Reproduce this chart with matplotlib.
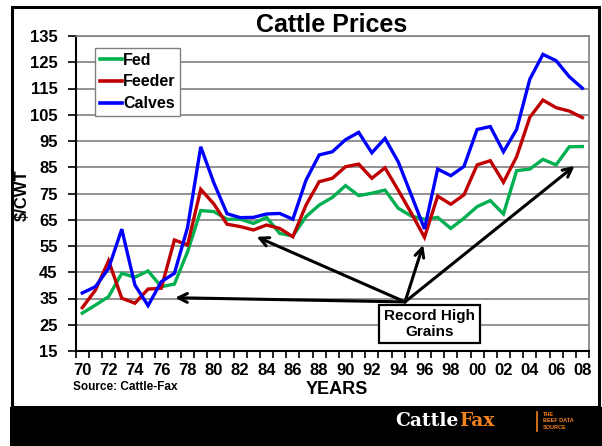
import numpy as np
import matplotlib
matplotlib.use("Agg")
import matplotlib.pyplot as plt
from matplotlib.patches import Rectangle
from matplotlib.lines import Line2D

plt.rcParams['font.family'] = ['Liberation Sans', 'DejaVu Sans']

years = ['70', '71', '72', '73', '74', '75', '76', '77', '78', '79',
         '80', '81', '82', '83', '84', '85', '86', '87', '88', '89',
         '90', '91', '92', '93', '94', '95', '96', '97', '98', '99',
         '00', '01', '02', '03', '04', '05', '06', '07', '08']

fed = [29.4, 32.5, 35.7, 44.6, 43.1, 45.5, 39.5, 40.5, 52.8, 68.5,
       68.1, 65.2, 65.2, 63.6, 65.9, 59.8, 58.8, 66.2, 70.6, 73.5,
       78.0, 74.2, 75.1, 76.3, 69.4, 66.4, 65.2, 65.9, 61.7, 65.6,
       70.0, 72.3, 67.2, 83.7, 84.3, 88.0, 85.9, 92.8, 92.9]

feeder = [31.5, 38.2, 49.4, 35.1, 33.2, 38.6, 38.9, 57.3, 55.4, 76.6,
          71.0, 63.3, 62.4, 61.1, 63.0, 61.7, 58.5, 70.6, 79.5, 80.8,
          85.2, 86.2, 80.8, 84.8, 76.3, 67.5, 58.3, 74.0, 70.9, 74.5,
          85.9, 87.5, 79.3, 89.0, 104.0, 110.6, 107.7, 106.4, 103.9]

calves = [37.1, 39.5, 46.5, 61.4, 40.1, 32.3, 41.4, 44.6, 62.1, 92.8,
          79.0, 67.3, 65.8, 65.9, 67.2, 67.4, 65.2, 80.1, 89.7, 90.9,
          95.5, 98.3, 90.5, 96.0, 87.1, 74.4, 61.5, 84.3, 81.8, 85.3,
          99.4, 100.5, 90.9, 99.4, 118.5, 128.0, 125.6, 119.5, 115.1]

series_names = ['Fed', 'Feeder', 'Calves']
series_colors = ['#00B050', '#C00000', '#0000FF']

yticks = [15, 25, 35, 45, 55, 65, 75, 85, 95, 105, 115, 125, 135]

# annotation: arrows from callout to four points (category index, value)
arrow_origin = (24.52, 33.7)
arrow_targets = [(7.05, 35.3), (13.25, 58.5), (25.9, 55.4), (37.4, 85.5)]
callout_pos = (26.38, 25.3)

W, H = 602, 446
fig = plt.figure(figsize=(W / 100, H / 100), dpi=100)
fig.patch.set_facecolor('white')

ax_l, ax_r, ax_t, ax_b = 75.7, 589, 36, 351
ax = fig.add_axes([ax_l / W, 1 - ax_b / H, (ax_r - ax_l) / W, (ax_b - ax_t) / H])

x = np.arange(len(years))
for vals, name, col in zip([fed, feeder, calves], series_names, series_colors):
    ax.plot(x, vals, color=col, lw=2.4, label=name, zorder=3,
            solid_joinstyle='miter')

ax.set_xlim(-0.5, len(years) - 0.5)
ax.set_ylim(15, 135)
ax.set_yticks(yticks)
ax.set_yticklabels([str(v) for v in yticks], fontsize=12, fontweight='bold')
ax.yaxis.grid(True, color='#808080', lw=1.2, zorder=0)
ax.set_axisbelow(True)

ax.set_xticks(x[::2])
ax.set_xticklabels(years[::2], fontsize=12, fontweight='bold')
ax.set_xticks(np.arange(-0.5, len(years), 1), minor=True)
ax.tick_params(axis='x', which='major', length=0, pad=8.5)
ax.tick_params(axis='x', which='minor', length=5, width=1.2, direction='out')
ax.tick_params(axis='y', length=6, width=1.2, direction='out', pad=7)

for s in ['left', 'bottom']:
    ax.spines[s].set_color('black')
    ax.spines[s].set_linewidth(1.5)
for s in ['top', 'right']:
    ax.spines[s].set_color('#808080')
    ax.spines[s].set_linewidth(1.2)

leg = ax.legend(loc='upper left', bbox_to_anchor=(0.0376, 0.962), borderaxespad=0,
                fancybox=False, edgecolor='#808080', framealpha=1,
                prop={'weight': 'bold', 'size': 11.5}, handlelength=1.4,
                handletextpad=0.05, labelspacing=0.42, borderpad=0.3)
leg.get_frame().set_linewidth(1.0)
leg.set_zorder(5)
for ln in leg.get_lines():
    ln.set_linewidth(2.6)

for tgt in arrow_targets:
    ax.annotate('', xy=tgt, xytext=arrow_origin,
                arrowprops=dict(arrowstyle='->', lw=2.2, color='black',
                                mutation_scale=16, shrinkA=0, shrinkB=0),
                zorder=6)

ax.text(callout_pos[0], callout_pos[1], 'Record High\nGrains', ha='center', va='center',
        fontsize=11, fontweight='bold', linespacing=1.1, zorder=7,
        bbox=dict(boxstyle='square,pad=0.3', fc='white', ec='black', lw=1.6))

# titles and labels
fig.text(332 / W, 1 - 24.5 / H, 'Cattle Prices', ha='center', va='center',
         fontsize=18, fontweight='bold')
fig.text(22 / W, 1 - 195 / H, '$/CWT', ha='center', va='center', rotation=90,
         fontsize=12, fontweight='bold')
fig.text(337 / W, 1 - 389 / H, 'YEARS', ha='center', va='center',
         fontsize=13, fontweight='bold')
fig.text(73 / W, 1 - 387 / H, 'Source: Cattle-Fax', ha='left', va='center',
         fontsize=8.5, fontweight='bold')

# frame and bottom band
fig.patches.append(Rectangle((11.5 / W, (H - 407) / H), (599 - 11.5) / W, (407 - 7) / H,
                             transform=fig.transFigure, fill=False, ec='black', lw=2.2))
fig.patches.append(Rectangle((10 / W, 0), (W - 10) / W, (H - 407) / H,
                             transform=fig.transFigure, fc='black', ec='none'))

fig.text(459 / W, 1 - 421 / H, 'Cattle', ha='right', va='center', color='white',
         fontsize=13.5, fontweight='bold', family='DejaVu Serif')
fig.text(459 / W, 1 - 421 / H, 'Fax', ha='left', va='center', color='#F5821F',
         fontsize=13.5, fontweight='bold', family='DejaVu Serif')
fig.lines.append(Line2D([537 / W, 537 / W], [1 - 412 / H, 1 - 431 / H],
                        transform=fig.transFigure, color='#F5821F', lw=1.2))
fig.text(543 / W, 1 - 421 / H, 'THE\nBEEF DATA\nSOURCE', ha='left', va='center',
         color='#F5821F', fontsize=4, fontweight='bold', linespacing=1.3)

fig.savefig('out.png', dpi=100, facecolor='white')
